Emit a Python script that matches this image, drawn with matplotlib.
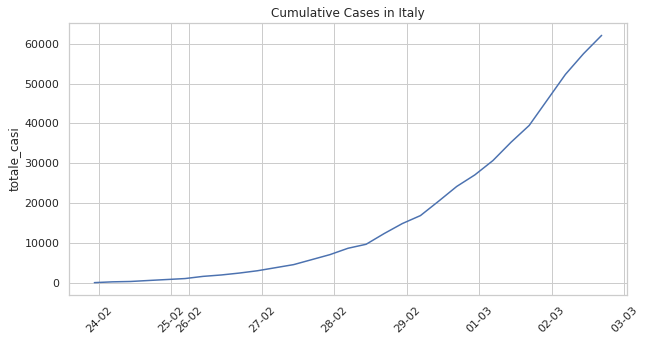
import numpy as np
import pandas as pd
import matplotlib
matplotlib.use('Agg')
import matplotlib.pyplot as plt
import seaborn as sns

sns.set_theme(style='whitegrid')

# daily readings (18:00 bulletin), 24 Feb -> 23 Mar
dates = pd.date_range('2020-02-24 18:00', periods=29, freq='D')
totale_casi = [80, 280, 370, 620, 860, 1100, 1650, 2000, 2480, 3060,
               3830, 4600, 5850, 7100, 8700, 9700, 12400, 14900, 16900, 20500,
               24200, 27100, 30700, 35300, 39500, 45900, 52300, 57500, 62100]

tick_dates = pd.to_datetime(['2020-02-25', '2020-02-29', '2020-03-01', '2020-03-05',
                             '2020-03-09', '2020-03-13', '2020-03-17', '2020-03-21',
                             '2020-03-25'])
tick_labels = ['24-02', '25-02', '26-02', '27-02', '28-02', '29-02', '01-03', '02-03', '03-03']

fig = plt.figure(figsize=(646 / 72, 341 / 72), dpi=72)
ax = fig.add_axes([69 / 646, 1 - 295 / 341, (627 - 69) / 646, (295 - 23) / 341])

sns.lineplot(x=dates, y=totale_casi, ax=ax)
ax.set_xticks(tick_dates)
ax.set_xticklabels(tick_labels, rotation=45)
ax.set_xlabel('')
ax.set_ylabel('totale_casi')
ax.set_title('Cumulative Cases in Italy')

fig.savefig('out.png', dpi=72)
